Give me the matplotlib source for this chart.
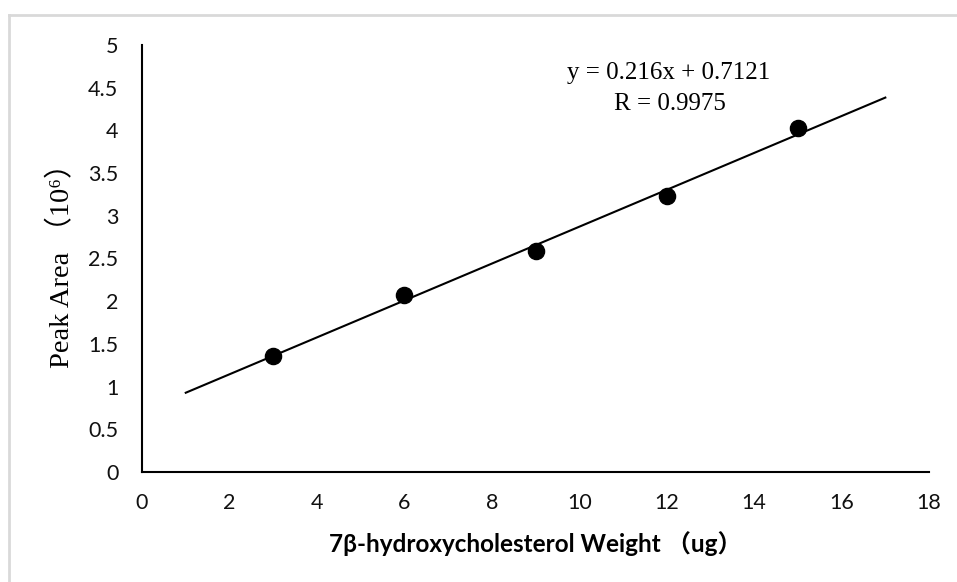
import numpy as np
import matplotlib.pyplot as plt
from matplotlib.lines import Line2D

# standard curve data
weight = [3, 6, 9, 12, 15]
peak_area = [1.36, 2.07, 2.59, 3.23, 4.03]

slope = 0.216
intercept = 0.7121
r_value = 0.9975
fit_range = [1, 17]

tick_font = ['Lato', 'DejaVu Sans']
serif_font = ['Liberation Serif', 'Noto Sans CJK SC', 'DejaVu Sans']
sans_cjk = ['Lato', 'Noto Sans CJK SC']

fig = plt.figure(figsize=(9.57, 5.82), dpi=100)
ax = fig.add_axes([0.1484, 0.189, 0.8224, 0.7337])

# light frame on the top and left edge
fig.add_artist(Line2D([9 / 957, 9 / 957], [0, 1 - 15 / 582], color='#d9d9d9', lw=2))
fig.add_artist(Line2D([9 / 957, 1], [1 - 15 / 582, 1 - 15 / 582], color='#d9d9d9', lw=2))

xs = np.array(fit_range, dtype=float)
ax.plot(xs, slope * xs + intercept, color='black', lw=1.5, zorder=2)
ax.scatter(weight, peak_area, s=135, color='black', zorder=3)

ax.text(12.05, 4.67, f'y = {slope}x + {intercept}', ha='center', va='center',
        fontsize=18, family=serif_font)
ax.text(12.07, 4.31, f'R = {r_value}', ha='center', va='center',
        fontsize=18, family=serif_font)

ax.set_xlim(0, 18)
ax.set_ylim(0, 5)
ax.set_xticks(range(0, 19, 2))
ax.set_yticks(np.arange(0, 5.01, 0.5))
ax.set_yticklabels(['0', '0.5', '1', '1.5', '2', '2.5', '3', '3.5', '4', '4.5', '5'])
ax.tick_params(length=0, labelsize=15.5, labelcolor='#111111')
ax.tick_params(axis='y', pad=17)
ax.tick_params(axis='x', pad=15)
for lab in ax.get_xticklabels() + ax.get_yticklabels():
    lab.set_family(tick_font)

for side in ['top', 'right']:
    ax.spines[side].set_visible(False)
for side in ['left', 'bottom']:
    ax.spines[side].set_linewidth(1.5)

ax.set_xlabel('7β-hydroxycholesterol Weight （ug）', fontsize=17.5, fontweight='bold',
              family=sans_cjk, labelpad=13)
ax.set_ylabel('Peak Area （10⁶）', fontsize=20.5, family=serif_font, labelpad=9)

fig.savefig('out.png', dpi=100)
